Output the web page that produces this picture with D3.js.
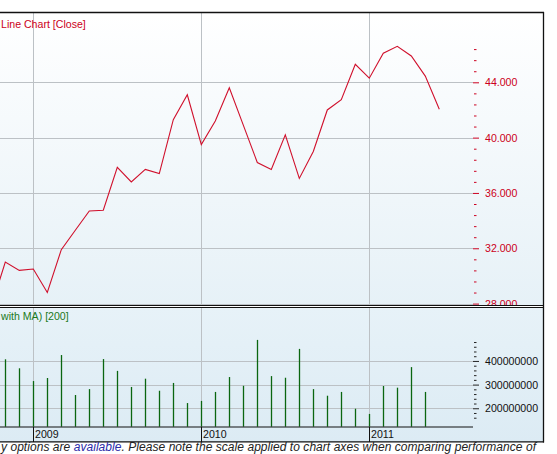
<!DOCTYPE html>
<html><head><meta charset="utf-8">
<script src="https://cdn.jsdelivr.net/npm/d3@7"></script>
<style>
html,body{margin:0;padding:0;background:#fff;overflow:hidden}
svg{display:block;font-family:"Liberation Sans",Arial,sans-serif}
</style></head>
<body>
<svg id="c" width="557" height="454"></svg>
<script>
// ---- data ----
const months = ["2008-10","2008-11","2008-12","2009-01","2009-02","2009-03","2009-04","2009-05","2009-06","2009-07","2009-08","2009-09","2009-10","2009-11","2009-12","2010-01","2010-02","2010-03","2010-04","2010-05","2010-06","2010-07","2010-08","2010-09","2010-10","2010-11","2010-12","2011-01","2011-02","2011-03","2011-04","2011-05","2011-06"];
const closeValues = [27.8,31.0,30.4,30.5,28.8,31.9,33.3,34.7,34.75,37.85,36.8,37.7,37.4,41.3,43.1,39.5,41.2,43.6,40.9,38.2,37.7,40.2,37.05,39.0,42.0,42.75,45.3,44.3,46.1,46.6,45.9,44.45,42.05];
const volumeMonths = ["2008-11","2008-12","2009-01","2009-02","2009-03","2009-04","2009-05","2009-06","2009-07","2009-08","2009-09","2009-10","2009-11","2009-12","2010-01","2010-02","2010-03","2010-04","2010-05","2010-06","2010-07","2010-08","2010-09","2010-10","2010-11","2010-12","2011-01","2011-02","2011-03","2011-04","2011-05"];
const volumeValues = [407e6,369e6,315e6,328e6,425e6,256e6,281e6,408e6,358e6,290e6,325e6,274e6,307e6,222e6,231e6,269e6,332e6,295e6,489e6,336e6,329e6,451e6,281e6,253e6,269e6,198e6,176e6,294e6,287e6,374e6,269e6];
const priceTicks = [28,32,36,40,44];
const volumeTicks = [200e6,300e6,400e6];
const yearTicks = ["2009-01","2010-01","2011-01"];
const yearLabels = ["2009","2010","2011"];
const priceTitle = "Line Chart [Close]";
const volumeTitle = "with MA) [200]";

// ---- helpers ----
const mIndex = s => { const [y,m] = s.split("-").map(Number); return (y-2009)*12 + (m-1); };

const svg = d3.select("#c");
const defs = svg.append("defs");
const g1 = defs.append("linearGradient").attr("id","gTop").attr("x1",0).attr("y1",0).attr("x2",0).attr("y2",1);
g1.append("stop").attr("offset","0%").attr("stop-color","#ffffff");
g1.append("stop").attr("offset","100%").attr("stop-color","#e6f1f7");
const g2 = defs.append("linearGradient").attr("id","gBot").attr("x1",0).attr("y1",0).attr("x2",0).attr("y2",1);
g2.append("stop").attr("offset","0%").attr("stop-color","#e7f2f8");
g2.append("stop").attr("offset","100%").attr("stop-color","#dcebf4");
defs.append("clipPath").attr("id","clipTop").append("rect").attr("x",0).attr("y",13).attr("width",543).attr("height",292);

// scales
const x = d3.scaleLinear().domain([0,24]).range([33.3,369.3]);
const yP = d3.scaleLinear().domain([28,44]).range([303.6,82.3]);
const yV = d3.scaleLinear().domain([122e6,480e6]).range([426.7,342.03]);

// panels
svg.append("rect").attr("x",0).attr("y",12).attr("width",543).attr("height",294).attr("fill","url(#gTop)");
svg.append("rect").attr("x",0).attr("y",307).attr("width",543).attr("height",135).attr("fill","url(#gBot)");

const grid = svg.append("g").attr("stroke","#bcc1c5").attr("stroke-width",1);
priceTicks.forEach(v => grid.append("line").attr("x1",0).attr("x2",473).attr("y1",Math.round(yP(v))+0.5).attr("y2",Math.round(yP(v))+0.5));
volumeTicks.forEach(v => grid.append("line").attr("x1",0).attr("x2",473).attr("y1",Math.round(yV(v))+0.5).attr("y2",Math.round(yV(v))+0.5));
yearTicks.forEach(s => {
  const xx = Math.round(x(mIndex(s)))+0.5;
  grid.append("line").attr("x1",xx).attr("x2",xx).attr("y1",13).attr("y2",305);
  grid.append("line").attr("x1",xx).attr("x2",xx).attr("y1",308).attr("y2",426);
});

// price line
const line = d3.line().x(d => x(mIndex(d.m))).y(d => yP(d.v));
const priceData = months.map((m,i) => ({m, v: closeValues[i]}));
svg.append("path").datum(priceData).attr("clip-path","url(#clipTop)")
  .attr("d", line).attr("fill","none").attr("stroke","#d0102c").attr("stroke-width",1.1);

// volume bars
svg.append("g").selectAll("line").data(volumeMonths.map((m,i)=>({m, v: volumeValues[i]}))).join("line")
  .attr("x1", d => Math.round(x(mIndex(d.m)))+0.5).attr("x2", d => Math.round(x(mIndex(d.m)))+0.5)
  .attr("y1", yV(122e6)).attr("y2", d => yV(d.v))
  .attr("stroke","#0a6610").attr("stroke-width",1.3);

// price axis (clipped to its panel like the reference)
const pAxis = svg.append("g").attr("clip-path","url(#clipTop)").append("g").attr("transform","translate(473,0)")
  .call(d3.axisRight(yP).tickValues(priceTicks).tickFormat(d3.format(".3f")).tickSize(6).tickPadding(6));
const pMinor = svg.append("g").attr("transform","translate(474,0)")
  .call(d3.axisRight(yP).tickValues(d3.range(28,46.41,0.8).filter(v => !priceTicks.some(t => Math.abs(t-v)<1e-6))).tickFormat("").tickSize(2.5));
[pAxis,pMinor].forEach(a => { a.select(".domain").remove(); a.selectAll("line").attr("stroke","#cc0020"); });
pAxis.selectAll("text").attr("fill","#cc0020").attr("font-size","10.6px").attr("font-family","Liberation Sans, Arial");

// volume axis
const vAxis = svg.append("g").attr("transform","translate(473,0)")
  .call(d3.axisRight(yV).tickValues(volumeTicks).tickFormat(d3.format("d")).tickSize(6).tickPadding(6));
const vMinor = svg.append("g").attr("transform","translate(474,0)")
  .call(d3.axisRight(yV).tickValues(d3.range(160e6,480.1e6,20e6).filter(v => !volumeTicks.includes(v))).tickFormat("").tickSize(2.5));
[vAxis,vMinor].forEach(a => { a.select(".domain").remove(); a.selectAll("line").attr("stroke","#222"); });
vAxis.selectAll("text").attr("fill","#111").attr("font-size","10.6px").attr("font-family","Liberation Sans, Arial");

// x axis
svg.append("line").attr("x1",0).attr("x2",473).attr("y1",427).attr("y2",427).attr("stroke","#111").attr("stroke-width",1);
yearTicks.forEach((s,i) => {
  const xx = Math.round(x(mIndex(s)))+0.5;
  svg.append("line").attr("x1",xx).attr("x2",xx).attr("y1",427).attr("y2",442).attr("stroke","#111");
  svg.append("text").attr("x",xx+1.5).attr("y",438).attr("font-size","10.6px").attr("fill","#111").text(yearLabels[i]);
});

// titles
svg.append("text").attr("x",1).attr("y",28).attr("font-size","10.6px").attr("fill","#cc0020").text(priceTitle);
svg.append("text").attr("x",1).attr("y",320).attr("font-size","10.6px").attr("fill","#1b7a1b").text(volumeTitle);

// borders
svg.append("line").attr("x1",0).attr("x2",544).attr("y1",12.5).attr("y2",12.5).attr("stroke","#111").attr("stroke-width",1.5);
svg.append("line").attr("x1",0).attr("x2",544).attr("y1",305.5).attr("y2",305.5).attr("stroke","#111").attr("stroke-width",1);
svg.append("line").attr("x1",0).attr("x2",544).attr("y1",307.5).attr("y2",307.5).attr("stroke","#111").attr("stroke-width",1);
svg.append("line").attr("x1",0).attr("x2",544).attr("y1",441.8).attr("y2",441.8).attr("stroke","#111").attr("stroke-width",1.3);
svg.append("line").attr("x1",543.5).attr("x2",543.5).attr("y1",12).attr("y2",442.5).attr("stroke","#111").attr("stroke-width",1.3);

// footnote
const ft = svg.append("text").attr("x",1).attr("y",451).attr("font-size","12px").attr("font-style","italic").attr("fill","#222")
  .attr("textLength",535).attr("lengthAdjust","spacing");
ft.append("tspan").text("y options are ");
ft.append("tspan").attr("fill","#2b2ba8").text("available");
ft.append("tspan").text(". Please note the scale applied to chart axes when comparing performance of");
</script>
</body></html>
